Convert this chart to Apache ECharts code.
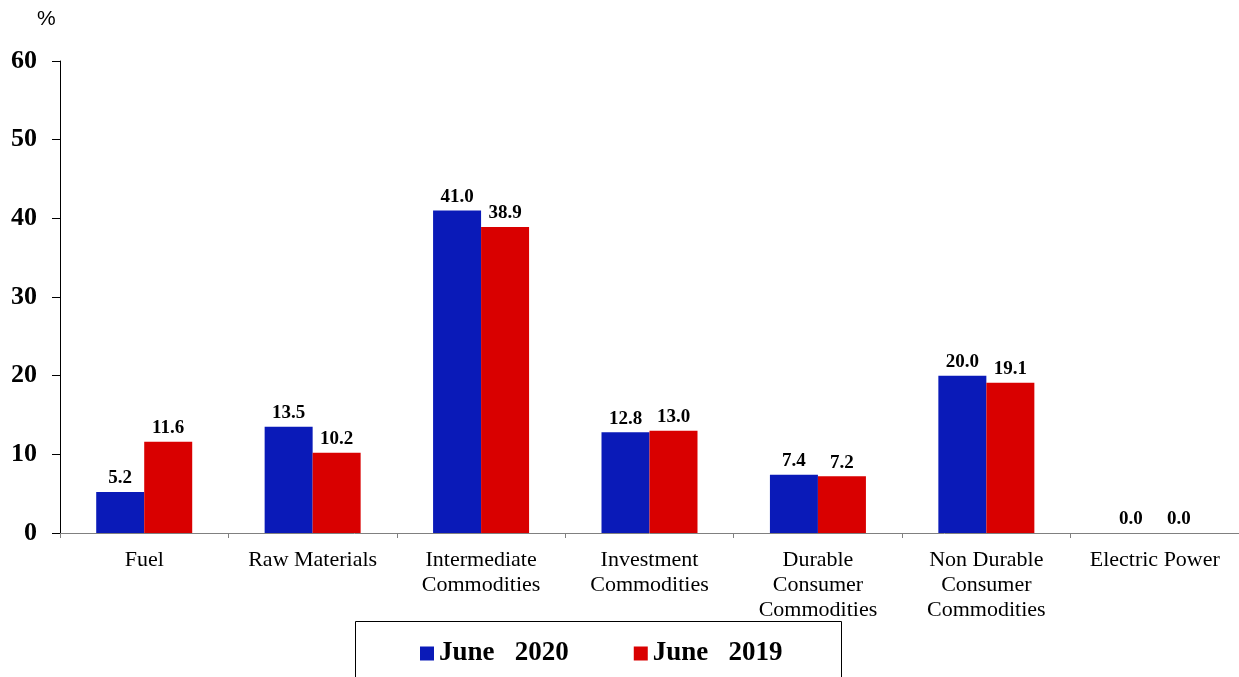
<!DOCTYPE html>
<html>
<head>
<meta charset="utf-8">
<script src="https://cdn.jsdelivr.net/npm/echarts@6/dist/echarts.min.js"></script>
<style>html,body{margin:0;padding:0;background:#fff;}#c{width:1239px;height:677px;}</style>
</head>
<body>
<div id="c"></div>
<script>
var categories = ['Fuel', 'Raw Materials', 'Intermediate\nCommodities', 'Investment\nCommodities', 'Durable\nConsumer\nCommodities', 'Non Durable\nConsumer\nCommodities', 'Electric Power'];
var june2020 = [5.2, 13.5, 41.0, 12.8, 7.4, 20.0, 0.0];
var june2019 = [11.6, 10.2, 38.9, 13.0, 7.2, 19.1, 0.0];
var seriesNames = ['June   2020', 'June   2019'];
var yTicks = [0, 10, 20, 30, 40, 50, 60];

var chart = echarts.init(document.getElementById('c'), null, {renderer: 'canvas'});
var labelStyle = {
  show: true, position: 'top', distance: 4,
  fontFamily: 'Liberation Serif', fontWeight: 'bold', fontSize: 19, color: '#000',
  formatter: function (p) { return p.value.toFixed(1); }
};
chart.setOption({
  animation: false,
  backgroundColor: '#fff',
  grid: {left: 60, right: 0, top: 61, bottom: 144, containLabel: false},
  graphic: [
    {type: 'text', left: 37, top: 9, style: {text: '%', font: '21px "Liberation Sans"', fill: '#000'}},
    {type: 'rect', shape: {x: 355.5, y: 621.5, width: 486, height: 70}, style: {fill: 'none', stroke: '#000', lineWidth: 1}}
  ],
  legend: {
    left: 415, top: 635, itemWidth: 14, itemHeight: 14, itemGap: 65,
    icon: 'rect',
    textStyle: {fontFamily: 'Liberation Serif', fontWeight: 'bold', fontSize: 27, color: '#000', padding: [0, 0, 0, 0]},
    data: seriesNames
  },
  xAxis: {
    type: 'category', data: categories,
    axisLine: {lineStyle: {color: '#808080', width: 1}},
    axisTick: {show: true, length: 5, lineStyle: {color: '#808080'}},
    axisLabel: {fontFamily: 'Liberation Serif', fontSize: 22, color: '#000', margin: 15, lineHeight: 25, interval: 0}
  },
  yAxis: {
    type: 'value', min: 0, max: 60, interval: 10,
    axisLine: {show: true, lineStyle: {color: '#000', width: 1}},
    axisTick: {show: true, length: 8, lineStyle: {color: '#000'}},
    splitLine: {show: false},
    axisLabel: {fontFamily: 'Liberation Serif', fontWeight: 'bold', fontSize: 26, color: '#000', margin: 23,
      formatter: function (v) { return yTicks.indexOf(v) >= 0 ? String(v) : ''; }}
  },
  series: [
    {name: seriesNames[0], type: 'bar', data: june2020, barWidth: 48, barGap: '0%', itemStyle: {color: '#0A1AB8'}, label: labelStyle},
    {name: seriesNames[1], type: 'bar', data: june2019, barWidth: 48, barGap: '0%', itemStyle: {color: '#D90000'}, label: labelStyle}
  ]
});
</script>
</body>
</html>
